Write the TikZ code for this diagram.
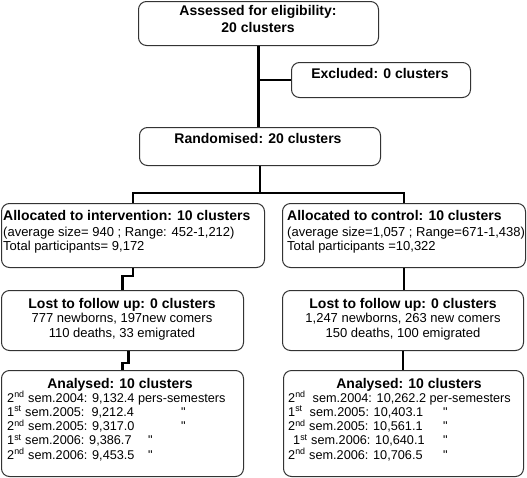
\documentclass[tikz,border=0pt]{standalone}
\usepackage{fontspec}
\setmainfont{Liberation Sans}
\newcommand\bt{\fontsize{14}{17}\selectfont\bfseries}
\newcommand\rt{\fontsize{13}{14.5}\selectfont}
\newcommand\rtt{\fontsize{12.7}{14.3}\selectfont}
\newcommand\dit{\textquotedbl}
\begin{document}
\begin{tikzpicture}[x=1pt,y=-1pt,
  box/.style={draw=black!80, line width=1pt, rounded corners=8pt, inner sep=0pt, anchor=north west},
  link/.style={line width=2.6pt, black},
  txt/.style={inner sep=0pt, text=black}]
\useasboundingbox (0,0) rectangle (527,477);
% boxes
\node[box, minimum width=240pt, minimum height=44pt] (assess) at (138,1) {};
\node[box, minimum width=179pt, minimum height=35pt] (excl) at (291,62) {};
\node[box, minimum width=241pt, minimum height=38pt] (rand) at (139,127) {};
\node[box, minimum width=263pt, minimum height=64pt] (int) at (1,203) {};
\node[box, minimum width=243pt, minimum height=64pt] (ctl) at (282,203) {};
\node[box, minimum width=242pt, minimum height=60pt] (lostL) at (1,290) {};
\node[box, minimum width=241pt, minimum height=60pt] (lostR) at (282,290) {};
\node[box, minimum width=242pt, minimum height=106pt] (anL) at (1,370) {};
\node[box, minimum width=240pt, minimum height=106pt] (anR) at (283,370) {};
% connectors
\coordinate (jn) at (260,193);
\draw[link] (assess.south) -- (assess.south |- rand.north);
\draw[link] (assess.south |- excl.west) -- (excl.west);
\draw[link] (rand.south) -- (rand.south |- jn);
\draw[link] (int.north) |- (jn) -| (ctl.north);
\draw[link] (int.south) -- ++(0,8) -| (lostL.north);
\draw[link] ([xshift=6pt]lostL.south) -- ++(0,12) -| (anL.north);
\draw[link] (ctl.south) -- (ctl.south |- lostR.north);
\draw[link] (lostR.south) -- (lostR.south |- anR.north);
% texts
\node[txt, font=\bt, align=center, anchor=north] (assessT) at (258,5) {Assessed for eligibility:\\20 clusters};
\node[txt, font=\bt, anchor=north] (exclT) at (380,68) {Excluded: 0 clusters};
\node[txt, font=\bt, anchor=north] (randT) at (258,133) {Randomised: 20 clusters};
\node[txt, font=\rt, align=left, anchor=north west] (intT) at (3,210)
  {{\bt Allocated to intervention: 10 clusters}\\[1.5pt]
   (average size= 940 ; Range: 452-1,212)\\
   Total participants= 9,172};
\node[txt, font=\rt, align=left, anchor=north west] (ctlT) at (287,210)
  {{\bt Allocated to control: 10 clusters}\\[1.5pt]
   (average size=1,057 ; Range=671-1,438)\\
   Total participants =10,322};
\node[txt, font=\rt, align=center, anchor=north] (lostLT) at (122,298)
  {{\bt Lost to follow up: 0 clusters}\\
   777 newborns, 197new comers\\
   110 deaths, 33 emigrated};
\node[txt, font=\rt, align=center, anchor=north] (lostRT) at (403,298)
  {{\bt Lost to follow up: 0 clusters}\\
   1,247 newborns, 263 new comers\\
   150 deaths, 100 emigrated};
\node[txt, font=\bt, anchor=north] (anLT) at (120,378) {Analysed: 10 clusters};
\node[txt, font=\bt, anchor=north] (anRT) at (409,378) {Analysed: 10 clusters};
\node[txt, font=\rtt, align=left, anchor=north west] (anLR) at (7,391)
  {2\textsuperscript{nd} sem.2004: 9,132.4 pers-semesters\\
   \makebox[174pt][l]{1\textsuperscript{st} sem.2005:\ \ 9,212.4}\dit\\
   \makebox[174pt][l]{2\textsuperscript{nd} sem.2005: 9,317.0}\dit\\
   \makebox[141pt][l]{1\textsuperscript{st} sem.2006: 9,386.7}\dit\\
   \makebox[141pt][l]{2\textsuperscript{nd} sem.2006: 9,453.5}\dit};
\node[txt, font=\rtt, align=left, anchor=north west] (anRR) at (288,391)
  {2\textsuperscript{nd}\ \ sem.2004: 10,262.2 per-semesters\\
   \makebox[155pt][l]{1\textsuperscript{st}\ \ sem.2005: 10,403.1}\dit\\
   \makebox[155pt][l]{2\textsuperscript{nd} sem.2005: 10,561.1}\dit\\
   \makebox[155pt][l]{\hspace*{5pt}1\textsuperscript{st} sem.2006: 10,640.1}\dit\\
   \makebox[155pt][l]{2\textsuperscript{nd} sem.2006: 10,706.5}\dit};
\end{tikzpicture}
\end{document}
